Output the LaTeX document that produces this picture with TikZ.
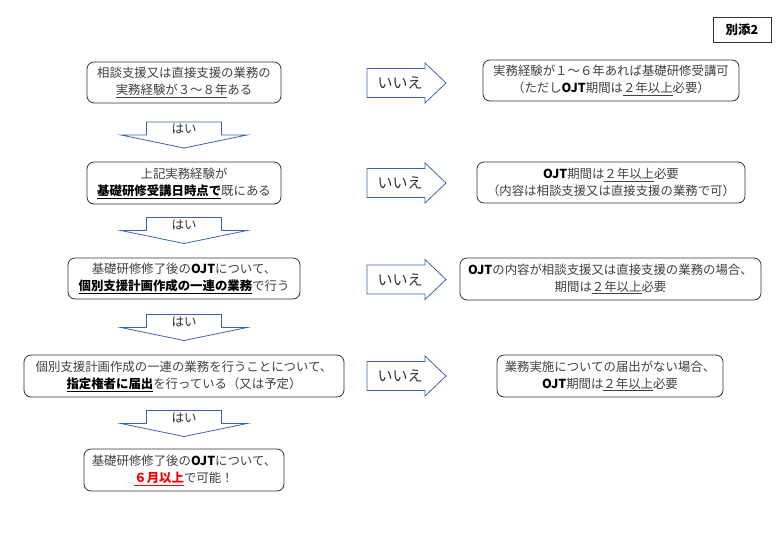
\documentclass[tikz,border=0pt]{standalone}
\usepackage{fontspec}
\setmainfont{Noto Sans CJK JP}
\usepackage{tikz}
\usetikzlibrary{positioning}

\definecolor{txtgray}{RGB}{64,64,64}
\definecolor{arrblue}{RGB}{60,100,175}

\begin{document}
\begin{tikzpicture}[x=1pt, y=-1pt,
  box/.style={draw=black!80, rounded corners=7pt, line width=0.8pt, inner sep=0pt, align=center, text=txtgray, font=\fontsize{12.4}{17}\selectfont},
  tag/.style={draw=black!80, line width=0.8pt, inner sep=0pt, minimum width=58pt, minimum height=25pt, font=\fontsize{12.5}{14}\selectfont\bfseries},
  yes/.style={inner sep=0pt, text=black!80, font=\fontsize{12.5}{14}\selectfont},
  no/.style={inner sep=0pt, text=black!80, font=\fontsize{15}{16}\selectfont},
  blk/.style={draw=arrblue, line width=0.8pt, line join=miter}
]
\useasboundingbox (0,0) rectangle (778,539);

\node[tag] (bt) at (742,29.5) {別添2};

% left column
\node[box, minimum width=194pt, minimum height=41pt] (b1) at (184,82.5)
  {相談支援又は直接支援の業務の\\\underline{実務経験が３～８年}ある};
\node[box, minimum width=194pt, minimum height=42pt] (b2) at (184,183)
  {上記実務経験が\\{\color{black}\underline{\textbf{基礎研修受講日時点で}}}既にある};
\node[box, minimum width=232pt, minimum height=41pt] (b3) at (184,278.5)
  {基礎研修修了後の{\color{black}\textbf{OJT}}について、\\{\color{black}\underline{\textbf{個別支援計画作成の一連の業務}}}で行う};
\node[box, minimum width=320pt, minimum height=42pt] (b4) at (184,376)
  {個別支援計画作成の一連の業務を行うことについて、\\{\color{black}\underline{\textbf{指定権者に届出}}}を行っている（又は予定）};
\node[box, minimum width=200pt, minimum height=42pt] (b5) at (184,470)
  {基礎研修修了後の{\color{black}\textbf{OJT}}について、\\{\color{red}\underline{\textbf{６月以上}}}で可能！};

% right column
\node[box, minimum width=256pt, minimum height=41pt] (r1) at (611,80.5)
  {実務経験が１～６年あれば基礎研修受講可\\（ただし{\color{black}\textbf{OJT}}期間は\underline{２年以上}必要）};
\node[box, minimum width=268pt, minimum height=41pt] (r2) at (611,182.5)
  {{\color{black}\textbf{OJT}}期間は\underline{２年以上}必要\\（内容は相談支援又は直接支援の業務で可）};
\node[box, minimum width=301pt, minimum height=42pt] (r3) at (610.5,279)
  {{\color{black}\textbf{OJT}}の内容が相談支援又は直接支援の業務の場合、\\期間は\underline{２年以上}必要};
\node[box, minimum width=226pt, minimum height=42pt] (r4) at (610,376)
  {業務実施についての届出がない場合、\\{\color{black}\textbf{OJT}}期間は\underline{２年以上}必要};

% yes arrows
\node[yes] (y1) at (184,129) {はい};
\node[yes] (y2) at (184,224.5) {はい};
\node[yes] (y3) at (184,321.5) {はい};
\node[yes] (y4) at (184,417.5) {はい};
\foreach \a in {y1,y2,y3,y4}
  \draw[blk, shift={(\a)}] (-37.5,-7) -- (37.5,-7) -- (37.5,6) -- (63,6)
    -- (0,19) -- (-63,6) -- (-37.5,6) -- cycle;

% no arrows
\node[no] (n1) at (400,83) {いいえ};
\node[no] (n2) at (400,183) {いいえ};
\node[no] (n3) at (400,279.5) {いいえ};
\node[no] (n4) at (400,376) {いいえ};
\foreach \a in {n1,n2,n3,n4}
  \draw[blk, shift={(\a)}] (-33,-14.5) -- (25,-14.5) -- (25,-20) -- (46,0)
    -- (25,20) -- (25,14.5) -- (-33,14.5) -- cycle;
\end{tikzpicture}
\end{document}
